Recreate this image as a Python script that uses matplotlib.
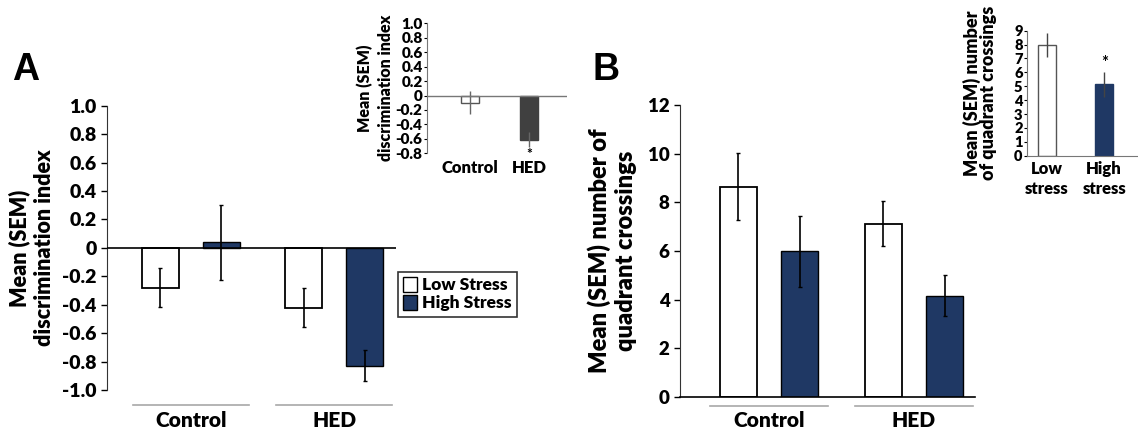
import matplotlib.pyplot as plt
from matplotlib.patches import Patch
from matplotlib.ticker import FuncFormatter

plt.rcParams['font.family'] = ['Lato', 'DejaVu Sans']
plt.rcParams['font.weight'] = 'bold'

NAVY = '#1f3864'
GREY_LINE = '#a8a8a8'

# panel A: discrimination index by diet and stress
groups = ['Control', 'HED']
a_low = [-0.28, -0.42]
a_low_sem = [0.135, 0.135]
a_high = [0.04, -0.83]
a_high_sem = [0.265, 0.11]

# panel A inset: diet only
a_inset_cats = ['Control', 'HED']
a_inset_vals = [-0.10, -0.61]
a_inset_sem = [0.16, 0.105]

# panel B: quadrant crossings by diet and stress
b_low = [8.65, 7.12]
b_low_sem = [1.37, 0.92]
b_high = [5.98, 4.15]
b_high_sem = [1.45, 0.84]

# panel B inset: stress only
b_inset_cats = ['Low\nstress', 'High\nstress']
b_inset_vals = [8.0, 5.15]
b_inset_sem = [0.86, 0.9]

fig = plt.figure(figsize=(11.38, 4.32), dpi=100)

off = 0.212
bw = 0.258
x = [0, 1]
W = 'heavy'


def group_axis(ax, line_y, label_y):
    tr = ax.get_xaxis_transform()
    for xc, name in zip(x, groups):
        ax.plot([xc - 0.405, xc + 0.405], [line_y, line_y], color=GREY_LINE,
                lw=1.2, transform=tr, clip_on=False)
        ax.text(xc, label_y, name, transform=tr, ha='center', va='center',
                fontsize=15, fontweight=W)


def fmt_a(v, pos):
    return '0' if abs(v) < 1e-9 else f'{v:.1f}'


def heavy_ticks(ax):
    for t in ax.get_yticklabels():
        t.set_fontweight(W)


# ---- A main
ax = fig.add_axes([0.094, 0.0972, 0.254, 0.658])
xl = [i - off for i in x]
xh = [i + off for i in x]
ax.bar(xl, a_low, bw, color='white', edgecolor='black', lw=1.3, zorder=2)
ax.bar(xh, a_high, bw, color=NAVY, edgecolor='black', lw=1.0, zorder=2)
ax.errorbar(xl, a_low, yerr=a_low_sem, fmt='none', ecolor='black', elinewidth=1.2,
            capsize=1.5, zorder=3)
ax.errorbar(xh, a_high, yerr=a_high_sem, fmt='none', ecolor='black', elinewidth=1.2,
            capsize=1.5, zorder=3)
ax.axhline(0, color='black', lw=1.2, zorder=4)
ax.set_xlim(-0.585, 1.43)
ax.set_ylim(-1.0, 1.0)
ax.set_yticks([1.0, 0.8, 0.6, 0.4, 0.2, 0, -0.2, -0.4, -0.6, -0.8, -1.0])
ax.yaxis.set_major_formatter(FuncFormatter(fmt_a))
ax.tick_params(axis='y', labelsize=14, length=4, width=1, direction='out')
heavy_ticks(ax)
ax.set_xticks([])
for s in ['top', 'right', 'bottom']:
    ax.spines[s].set_visible(False)
ax.spines['left'].set_color('#333333')
ax.set_ylabel('Mean (SEM)\ndiscrimination index', fontsize=15.5, fontweight=W,
              labelpad=5, linespacing=1.25)
group_axis(ax, -0.053, -0.107)
leg = ax.legend(handles=[Patch(facecolor='white', edgecolor='black', label='Low Stress'),
                         Patch(facecolor=NAVY, edgecolor='black', label='High Stress')],
                loc='upper left', bbox_to_anchor=(1.007, 0.415), borderaxespad=0,
                fancybox=False, edgecolor='black', prop={'size': 12.5, 'weight': W},
                handlelength=0.8, handleheight=0.9, handletextpad=0.3, borderpad=0.3,
                labelspacing=0.1)
leg.get_frame().set_linewidth(1.2)
fig.text(0.0105, 0.815, 'A', fontsize=27, fontweight='bold', family='Liberation Sans')

# ---- A inset
ia = fig.add_axes([0.375, 0.6451, 0.123, 0.301])
ia.bar(x, a_inset_vals, 0.30, color=['white', '#404040'],
       edgecolor=['#555555', '#404040'], lw=1.0, zorder=2)
ia.errorbar(x, a_inset_vals, yerr=a_inset_sem, fmt='none', ecolor='#666666',
            elinewidth=1.0, capsize=0, zorder=3)
ia.axhline(0, color='#777777', lw=1.0, zorder=4)
ia.set_xlim(-0.725, 1.636)
ia.set_ylim(-0.8, 1.0)
ia.set_yticks([1.0, 0.8, 0.6, 0.4, 0.2, 0, -0.2, -0.4, -0.6, -0.8])
ia.yaxis.set_major_formatter(FuncFormatter(fmt_a))
ia.tick_params(axis='y', labelsize=11, length=2, width=0.8, pad=1)
heavy_ticks(ia)
ia.set_xticks([])
for s in ['top', 'right', 'bottom']:
    ia.spines[s].set_visible(False)
ia.spines['left'].set_color('#777777')
ia.set_ylabel('Mean (SEM)\ndiscrimination index', fontsize=11.5, fontweight=W,
              labelpad=1, linespacing=1.4)
tr = ia.get_xaxis_transform()
ia.text(1, -0.005, '*', transform=tr, ha='center', va='center', fontsize=10)
for xc, name in zip(x, a_inset_cats):
    ia.text(xc, -0.115, name, transform=tr, ha='center', va='center', fontsize=12,
            fontweight=W)

# ---- B main
bx = fig.add_axes([0.5975, 0.0817, 0.2592, 0.675])
bx.bar(xl, b_low, bw, color='white', edgecolor='black', lw=1.3, zorder=2)
bx.bar(xh, b_high, bw, color=NAVY, edgecolor='black', lw=1.0, zorder=2)
bx.errorbar(xl, b_low, yerr=b_low_sem, fmt='none', ecolor='black', elinewidth=1.2,
            capsize=1.5, zorder=3)
bx.errorbar(xh, b_high, yerr=b_high_sem, fmt='none', ecolor='black', elinewidth=1.2,
            capsize=1.5, zorder=3)
bx.set_xlim(-0.614, 1.42)
bx.set_ylim(0, 12)
bx.set_yticks([0, 2, 4, 6, 8, 10, 12])
bx.tick_params(axis='y', labelsize=13.5, length=4, width=1, direction='out')
heavy_ticks(bx)
bx.set_xticks([])
for s in ['top', 'right']:
    bx.spines[s].set_visible(False)
bx.spines['left'].set_color('#333333')
bx.spines['bottom'].set_linewidth(1.2)
bx.set_ylabel('Mean (SEM) number of\nquadrant crossings', fontsize=17,
              fontweight=W, labelpad=8, linespacing=1.2)
group_axis(bx, -0.031, -0.082)
fig.text(0.521, 0.815, 'B', fontsize=27, fontweight='bold', family='Liberation Sans')

# ---- B inset
ib = fig.add_axes([0.9022, 0.6396, 0.0969, 0.2894])
ib.bar(x, b_inset_vals, 0.31, color=['white', NAVY], edgecolor=['#555555', NAVY],
       lw=1.0, zorder=2)
ib.errorbar(x, b_inset_vals, yerr=b_inset_sem, fmt='none', ecolor='#444444',
            elinewidth=1.0, capsize=0, zorder=3)
ib.set_xlim(-0.35, 1.57)
ib.set_ylim(0, 9)
ib.set_yticks(range(10))
ib.tick_params(axis='y', labelsize=10.5, length=2, width=0.8, pad=1)
heavy_ticks(ib)
ib.set_xticks([])
for s in ['top', 'right']:
    ib.spines[s].set_visible(False)
ib.spines['left'].set_color('#777777')
ib.spines['bottom'].set_color('#777777')
ib.set_ylabel('Mean (SEM) number\nof quadrant crossings', fontsize=13, fontweight=W,
              labelpad=12, linespacing=0.95)
tr = ib.get_xaxis_transform()
ib.text(1, 0.74, '*', transform=tr, ha='center', va='center', fontsize=12)
for xc, name in zip(x, b_inset_cats):
    ib.text(xc, -0.185, name, transform=tr, ha='center', va='center', fontsize=12,
            fontweight=W, linespacing=1.35)

fig.savefig('out.png', dpi=100)
